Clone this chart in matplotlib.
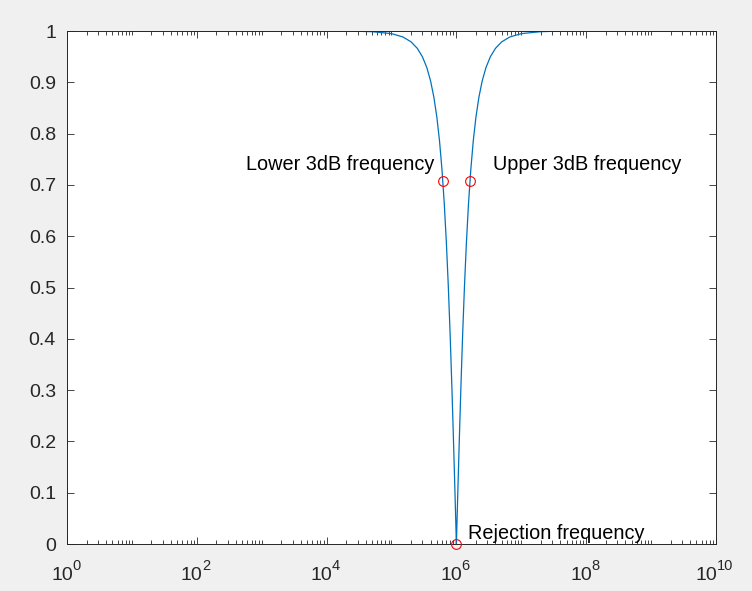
import matplotlib
matplotlib.use('Agg')
import matplotlib.pyplot as plt
import matplotlib.ticker as mticker
from matplotlib.transforms import offset_copy
import numpy as np

plt.rcParams['font.family'] = ['Liberation Sans', 'DejaVu Sans']

# Notch response, values (frequency in Hz, magnitude)
freq = [1e1, 1e3, 1e4, 3e4, 5e4, 1e5, 1.5e5, 2e5, 2.5e5, 3e5, 3.5e5, 4e5,
        4.5e5, 5e5, 5.5e5, 6e5, 6.5e5, 7e5, 7.5e5, 8e5, 8.5e5, 9e5, 9.5e5,
        9.8e5, 1e6, 1.0204e6, 1.0526e6, 1.1111e6, 1.1765e6, 1.25e6, 1.3333e6,
        1.4286e6, 1.5385e6, 1.6667e6, 1.8182e6, 2e6, 2.2222e6, 2.5e6,
        2.8571e6, 3.3333e6, 4e6, 5e6, 6.6667e6, 1e7, 2e7, 3.3333e7, 1e8,
        1e9, 1e10]
mag = [1.0, 1.0, 1.0, 0.99955, 0.99875, 0.99495, 0.98844, 0.97898, 0.96624,
       0.9497, 0.92884, 0.9029, 0.87092, 0.8321, 0.78524, 0.7295, 0.66418,
       0.5889, 0.50387, 0.4104, 0.31035, 0.2066, 0.1021, 0.04037, 0.0,
       0.04037, 0.1021, 0.2066, 0.31035, 0.4104, 0.50387, 0.5889, 0.66418,
       0.7295, 0.78524, 0.8321, 0.87092, 0.9029, 0.92884, 0.9497, 0.96624,
       0.97898, 0.98844, 0.99495, 0.99875, 0.99955, 1.0, 1.0, 1.0]

# Marked points
mark_f = [6.18e5, 1.618e6, 1e6]
mark_m = [0.7071, 0.7071, 0.0]
mark_txt = ['Lower 3dB frequency', 'Upper 3dB frequency', 'Rejection frequency']

# x tick decades (labelled)
x_exp = [0, 2, 4, 6, 8, 10]

fig = plt.figure(figsize=(7.52, 5.91), dpi=100, facecolor='#f0f0f0')
ax = fig.add_axes([0.0891, 0.0795, 0.863, 0.868])

ax.semilogx(freq, mag, color='#0072bd', lw=0.9)
ax.plot(mark_f, mark_m, 'o', mfc='none', mec='red', ms=7, mew=0.8,
        clip_on=False, zorder=5)

ax.annotate(mark_txt[0], (mark_f[0], mark_m[0]), xytext=(-8, 17),
            textcoords='offset pixels', ha='right', va='center', fontsize=14.3)
ax.annotate(mark_txt[1], (mark_f[1], mark_m[1]), xytext=(23, 17),
            textcoords='offset pixels', ha='left', va='center', fontsize=14.3)
ax.annotate(mark_txt[2], (mark_f[2], mark_m[2]), xytext=(12, 11),
            textcoords='offset pixels', ha='left', va='center', fontsize=14.3)

ax.set_xlim(1e0, 1e10)
ax.set_ylim(0, 1)
ax.set_xticks([10.0 ** k for k in x_exp])
ax.xaxis.set_major_formatter(mticker.NullFormatter())
minor = [m * 10.0 ** k for k in range(0, 10) for m in range(1, 10)
         if not (m == 1 and k % 2 == 0)]
ax.xaxis.set_minor_locator(mticker.FixedLocator(minor))
ax.xaxis.set_minor_formatter(mticker.NullFormatter())
ax.set_yticks(np.arange(0, 1.01, 0.1))
ax.yaxis.set_major_formatter(mticker.FuncFormatter(lambda v, p: '%g' % round(v, 1)))

# MATLAB-like 10^k labels, base and exponent drawn separately
xt = ax.get_xaxis_transform()
for k in x_exp:
    wexp = 8.5 * len(str(k)) + 1
    dx = (21 - wexp) / 2
    ax.text(10.0 ** k, 0, '10', transform=offset_copy(xt, fig, x=dx, y=-36, units='dots'),
            ha='right', va='baseline', fontsize=14, color='#262626')
    ax.text(10.0 ** k, 0, str(k), transform=offset_copy(xt, fig, x=dx - 0.5, y=-26, units='dots'),
            ha='left', va='baseline', fontsize=10.5, color='#262626')

ax.tick_params(which='both', direction='in', top=True, right=True,
               color='#262626', labelcolor='#262626')
ax.tick_params(axis='y', which='major', length=5, width=0.6, pad=8, labelsize=14)
ax.tick_params(axis='x', which='major', length=5, width=0.6)
ax.tick_params(which='minor', length=3, width=0.6)
for s in ax.spines.values():
    s.set_color('#262626')
    s.set_linewidth(0.7)

fig.savefig('out.png', dpi=100, facecolor=fig.get_facecolor())
